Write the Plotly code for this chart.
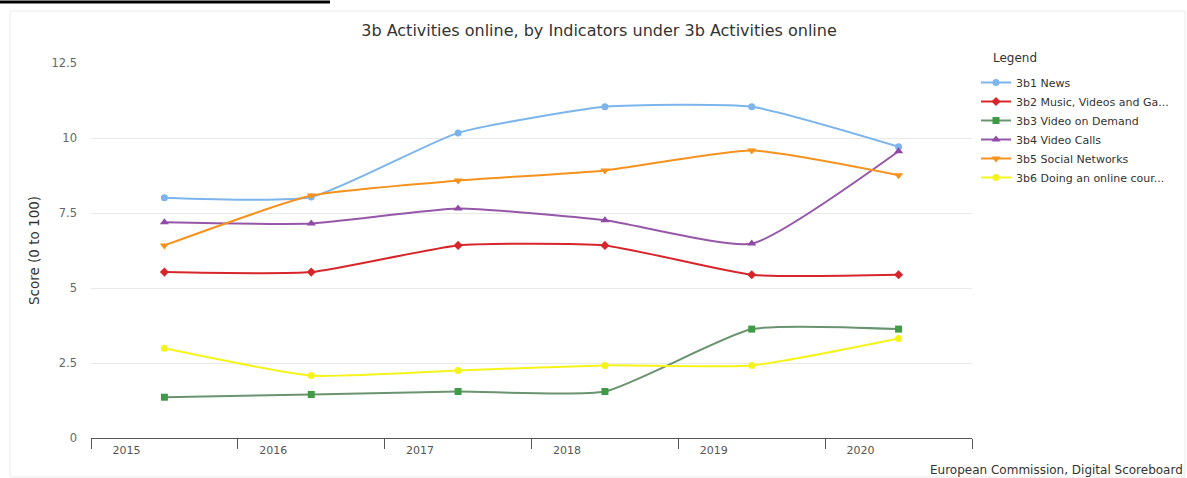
import plotly.graph_objects as go

# Years on the category axis
years = ["2015", "2016", "2017", "2018", "2019", "2020"]

# Indicator scores (0 to 100 scale)
news = [8.01, 8.03, 10.17, 11.04, 11.04, 9.71]
music_videos_games = [5.53, 5.53, 6.42, 6.42, 5.44, 5.44]
video_on_demand = [1.36, 1.45, 1.55, 1.55, 3.63, 3.63]
video_calls = [7.19, 7.15, 7.65, 7.26, 6.48, 9.56]
social_networks = [6.42, 8.08, 8.58, 8.92, 9.58, 8.76]
online_course = [2.99, 2.08, 2.25, 2.42, 2.42, 3.32]

series_names = [
    "3b1 News",
    "3b2 Music, Videos and Ga...",
    "3b3 Video on Demand",
    "3b4 Video Calls",
    "3b5 Social Networks",
    "3b6 Doing an online cour...",
]
series_values = [news, music_videos_games, video_on_demand, video_calls,
                 social_networks, online_course]

y_ticks = [0, 2.5, 5, 7.5, 10, 12.5]
y_tick_labels = ["0", "2.5", "5", "7.5", "10", "12.5"]

# Styling per series: (line colour, marker colour, symbol, marker size)
styles = [
    ("#7cb5ec", "#7cb5ec", "circle", 7),
    ("#d7262b", "#d7262b", "diamond", 7),
    ("#6a9470", "#3f9b45", "square", 7),
    ("#9657a8", "#8e4aa6", "triangle-up", 8),
    ("#f5921e", "#f5921e", "triangle-down", 8),
    ("#f4f41a", "#f4f41a", "circle", 7),
]

FONT = "DejaVu Sans, Verdana, sans-serif"

fig = go.Figure()
for name, vals, (lc, mc, sym, ms) in zip(series_names, series_values, styles):
    fig.add_trace(go.Scatter(
        x=years, y=vals, name=name, mode="lines+markers",
        line=dict(color=lc, width=2, shape="spline", smoothing=0.5),
        marker=dict(color=mc, symbol=sym, size=ms),
    ))

# Plot area spans pixels 91..972 horizontally and 63..438 vertically
L, R, T, B = 91, 215, 63, 40
W, H = 1187, 478
pw, ph = W - L - R, H - T - B


def px_x(p):
    return (p - L) / pw


def px_y(p):
    return (H - B - p) / ph


shapes = [
    # thin container frame
    dict(type="rect", xref="paper", yref="paper",
         x0=px_x(10), x1=px_x(1185), y0=px_y(477), y1=px_y(11),
         line=dict(color="#ececec", width=1), layer="below"),
    # dark rule across the top left
    dict(type="line", xref="paper", yref="paper",
         x0=px_x(0), x1=px_x(330), y0=px_y(2), y1=px_y(2),
         line=dict(color="#000000", width=3)),
]

fig.update_layout(
    width=W, height=H,
    margin=dict(l=L, r=R, t=T, b=B, pad=0),
    paper_bgcolor="white", plot_bgcolor="white",
    font=dict(family=FONT, size=11, color="#666666"),
    title=dict(
        text="3b Activities online, by Indicators under 3b Activities online",
        x=px_x(599), xref="paper", xanchor="center",
        y=1 - 30 / H, yanchor="middle",
        font=dict(family=FONT, size=16, color="#333333"),
    ),
    xaxis=dict(
        type="category", range=[-0.5, 5.5],
        tickson="boundaries", ticks="outside", ticklen=10, tickwidth=1,
        tickcolor="#555555", showline=True, linecolor="#555555", linewidth=1,
        showgrid=False, ticklabelshift=-38, ticklabelstandoff=2,
        tickfont=dict(size=11, color="#555555"),
    ),
    yaxis=dict(
        range=[0, 12.5], tickvals=y_ticks, ticktext=y_tick_labels,
        showgrid=True, gridcolor="#e9e9e9", gridwidth=1, zeroline=False,
        showline=False, ticks="", ticklabelstandoff=13,
        tickfont=dict(size=11.5, color="#666666"),
        title=dict(text="Score (0 to 100)", standoff=8,
                   font=dict(size=13.5, color="#333333")),
    ),
    legend=dict(
        x=px_x(976), y=px_y(68), xanchor="left", yanchor="top",
        font=dict(size=11, color="#333333"),
        bgcolor="rgba(0,0,0,0)", tracegroupgap=0, itemwidth=30,
    ),
    shapes=shapes,
    annotations=[
        dict(text="Legend", xref="paper", yref="paper",
             x=px_x(991), y=px_y(58), xanchor="left", yanchor="middle",
             showarrow=False, font=dict(family=FONT, size=12, color="#333333")),
        dict(text="European Commission, Digital Scoreboard",
             xref="paper", yref="paper", x=px_x(1185), y=px_y(470),
             xanchor="right", yanchor="middle", showarrow=False,
             font=dict(family=FONT, size=12, color="#333333")),
    ],
)

fig.write_html("out.html")
